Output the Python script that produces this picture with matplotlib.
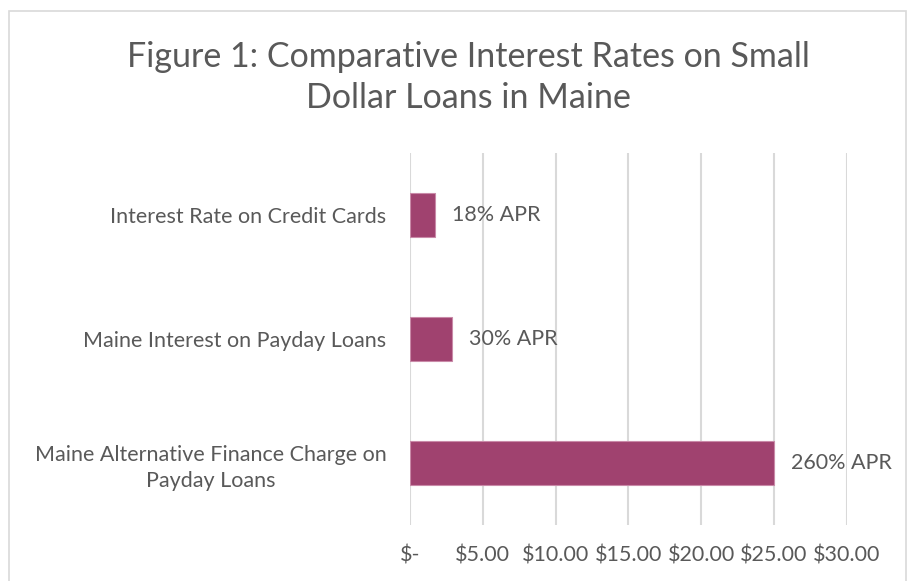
import matplotlib.pyplot as plt
from matplotlib.patches import Rectangle

# data
categories = ['Maine Alternative Finance Charge on\nPayday Loans',
              'Maine Interest on Payday Loans',
              'Interest Rate on Credit Cards']
costs = [25.00, 2.88, 1.73]
apr_labels = ['260% APR', '30% APR', '18% APR']
x_ticks = [0, 5, 10, 15, 20, 25, 30]
x_tick_labels = ['$-', '$5.00', '$10.00', '$15.00', '$20.00', '$25.00', '$30.00']

text_color = '#595959'
bar_color = '#A0426F'
fs = 15.5

plt.rcParams['font.family'] = ['Lato', 'DejaVu Sans']

fig = plt.figure(figsize=(9.16, 5.81), dpi=100)
ax = fig.add_axes([0.4476, 0.0964, 0.9243 - 0.4476, 0.7368 - 0.0964])

ypos = list(range(len(categories)))
ax.barh(ypos, costs, height=0.36, color=bar_color, edgecolor='#c98aa8',
        linewidth=0.8, zorder=3)

for y, v, lab in zip(ypos, costs, apr_labels):
    ax.annotate(lab, xy=(v, y), xytext=(12, 0), textcoords='offset points',
                va='center', ha='left', fontsize=fs, color=text_color)

ax.set_xlim(0, 30)
ax.set_ylim(-0.5, len(categories) - 0.5)
ax.set_xticks(x_ticks)
ax.set_xticklabels(x_tick_labels, fontsize=fs, color=text_color)
ax.set_yticks(ypos)
ax.set_yticklabels(categories, fontsize=fs, color=text_color,
                   multialignment='center', linespacing=1.35)
ax.tick_params(axis='both', length=0)
ax.tick_params(axis='y', pad=17)
ax.tick_params(axis='x', pad=15)
ax.grid(axis='x', color='#d9d9d9', linewidth=1.5, zorder=0)
for s in ax.spines.values():
    s.set_visible(False)

fig.text(0.511, 0.866, 'Figure 1: Comparative Interest Rates on Small\nDollar Loans in Maine',
         ha='center', va='center', fontsize=24.5, color=text_color,
         linespacing=1.35)

# chart border like the Excel chart area
fig.patches.append(Rectangle((9 / 916, -0.05), (906 - 9) / 916, 1.05 - 11 / 581,
                             transform=fig.transFigure, fill=False,
                             edgecolor='#d9d9d9', linewidth=1.2))

fig.savefig('out.png', dpi=100)
